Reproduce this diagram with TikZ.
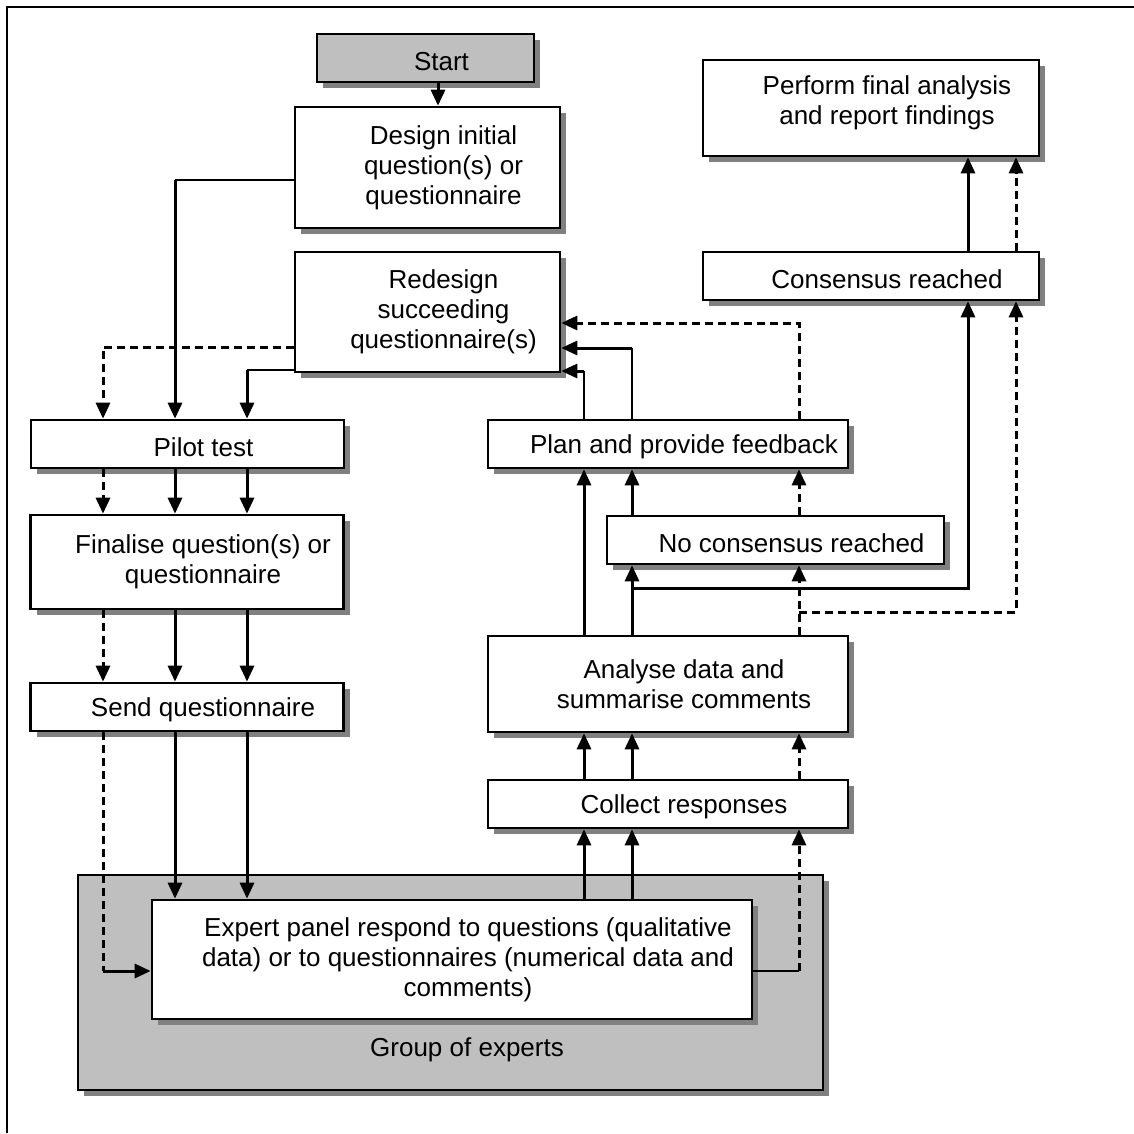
\documentclass[tikz,border=0pt]{standalone}
\usepackage{fontspec}
\setmainfont{Liberation Sans}
\usetikzlibrary{arrows.meta,shadows}

\begin{document}
\begin{tikzpicture}[x=1pt,y=-1pt,>={Triangle[length=16pt,width=14pt]},every node/.style={font=\fontsize{26}{30}\selectfont},
box/.style={draw,line width=2.6pt,fill=white,inner sep=0pt,drop shadow={shadow xshift=6pt,shadow yshift=-6pt,fill=black!50,opacity=1}},
greybox/.style={box,fill=black!25},txt/.style={align=center,xshift=16pt},txtone/.style={txt,yshift=-3pt},
link/.style={->,line width=3pt},dlink/.style={->,line width=3pt,dash pattern=on 8pt off 5pt},thinlink/.style={line width=1.8pt}]
\useasboundingbox (0,0) rectangle (1134,1133);
\draw[line width=2.6pt] (7,1133)--(7,7)--(1134,7);
\node[greybox,minimum width=217pt,minimum height=48pt,label={[txtone,yshift=-1pt]center:Start}] (start) at (425.5,58) {};
\node[box,minimum width=265pt,minimum height=121pt,label={[txt]center:{Design initial\\question(s) or\\questionnaire}}] (design) at (427.5,167.5) {};
\node[box,minimum width=265pt,minimum height=120pt,label={[txt]center:{Redesign\\succeeding\\questionnaire(s)}}] (redesign) at (427.5,312) {};
\node[box,minimum width=336pt,minimum height=96pt,label={[txt,yshift=5pt]center:{Perform final analysis\\and report findings}}] (final) at (871,108) {};
\node[box,minimum width=336pt,minimum height=48pt,label={[txtone]center:Consensus reached}] (consensus) at (871,276) {};
\node[box,minimum width=313pt,minimum height=48pt,label={[txtone]center:Pilot test}] (pilot) at (187.5,444) {};
\node[box,minimum width=313pt,minimum height=94pt,label={[txt]center:{Finalise question(s) or\\questionnaire}}] (finalise) at (187,562) {};
\node[box,minimum width=313pt,minimum height=48pt,label={[txtone]center:Send questionnaire}] (send) at (187,707) {};
\node[box,minimum width=360pt,minimum height=48pt,label={[txtone]center:Plan and provide feedback}] (feedback) at (668,444) {};
\node[box,minimum width=337pt,minimum height=48pt,label={[txtone]center:No consensus reached}] (noconsensus) at (775.5,540) {};
\node[box,minimum width=360pt,minimum height=96pt,label={[txt]center:{Analyse data and\\summarise comments}}] (analyse) at (668,684) {};
\node[box,minimum width=360pt,minimum height=48pt,label={[txtone]center:Collect responses}] (collect) at (668,804) {};
\node[greybox,minimum width=745pt,minimum height=215pt] (group) at (450.5,982.5) {};
\node[box,minimum width=600pt,minimum height=119pt,label={[txt]center:{Expert panel respond to questions (qualitative\\data) or to questionnaires (numerical data and\\comments)}}] (panel) at (452,959.5) {};
\node (grouptext) at (467,1050) {Group of experts};
\coordinate (cA) at (103,0);\coordinate (cB) at (175,0);\coordinate (cC) at (247,0);\coordinate (cS) at (438,0);
\coordinate (cD) at (584,0);\coordinate (cE) at (632,0);\coordinate (cF) at (799,0);\coordinate (cG) at (968,0);\coordinate (cH) at (1016,0);
\coordinate (rA) at (0,180);\coordinate (rB) at (0,347);\coordinate (rC) at (0,370);\coordinate (rD) at (0,323);\coordinate (rE) at (0,348);
\coordinate (rF) at (0,371);\coordinate (rG) at (0,588);\coordinate (rH) at (0,612);\coordinate (rI) at (0,971);
\draw[link] (start.south -| cS)--(design.north -| cS);
\draw[thinlink] (design.west |- rA)--(cB |- rA);\draw[link] (cB |- rA)--(pilot.north -| cB);
\draw[dlink] (redesign.west |- rB) -| (pilot.north -| cA);
\draw[thinlink] (redesign.west |- rC)--(cC |- rC);\draw[link] (cC |- rC)--(pilot.north -| cC);
\draw[dlink] (pilot.south -| cA)--(finalise.north -| cA);\draw[link] (pilot.south -| cB)--(finalise.north -| cB);\draw[link] (pilot.south -| cC)--(finalise.north -| cC);
\draw[dlink] (finalise.south -| cA)--(send.north -| cA);\draw[link] (finalise.south -| cB)--(send.north -| cB);\draw[link] (finalise.south -| cC)--(send.north -| cC);
\draw[link] (send.south -| cB)--(panel.north -| cB);\draw[link] (send.south -| cC)--(panel.north -| cC);
\draw[dlink,-] (send.south -| cA)--(cA |- rI);\draw[link] (cA |- rI)--(panel.west |- rI);
\draw[link] (panel.north -| cD)--(collect.south -| cD);\draw[link] (panel.north -| cE)--(collect.south -| cE);
\draw[thinlink] (panel.east |- rI)--(cF |- rI);\draw[dlink] (cF |- rI)--(collect.south -| cF);
\draw[link] (collect.north -| cD)--(analyse.south -| cD);\draw[link] (collect.north -| cE)--(analyse.south -| cE);\draw[dlink] (collect.north -| cF)--(analyse.south -| cF);
\draw[link] (analyse.north -| cD)--(feedback.south -| cD);
\draw[link] (analyse.north -| cE)--(noconsensus.south -| cE);\draw[dlink] (analyse.north -| cF)--(noconsensus.south -| cF);
\draw[link] (cE |- rG) -| (consensus.south -| cG);\draw[dlink] (cF |- rH) -| (consensus.south -| cH);
\draw[link] (noconsensus.north -| cE)--(feedback.south -| cE);\draw[dlink] (noconsensus.north -| cF)--(feedback.south -| cF);
\draw[thinlink] (feedback.north -| cD)--(cD |- rF);\draw[link] (cD |- rF)--(redesign.east |- rF);
\draw[thinlink] (feedback.north -| cE)--(cE |- rE);\draw[link] (cE |- rE)--(redesign.east |- rE);
\draw[dlink] (feedback.north -| cF) |- (redesign.east |- rD);
\draw[link] (consensus.north -| cG)--(final.south -| cG);\draw[dlink] (consensus.north -| cH)--(final.south -| cH);
\end{tikzpicture}
\end{document}
